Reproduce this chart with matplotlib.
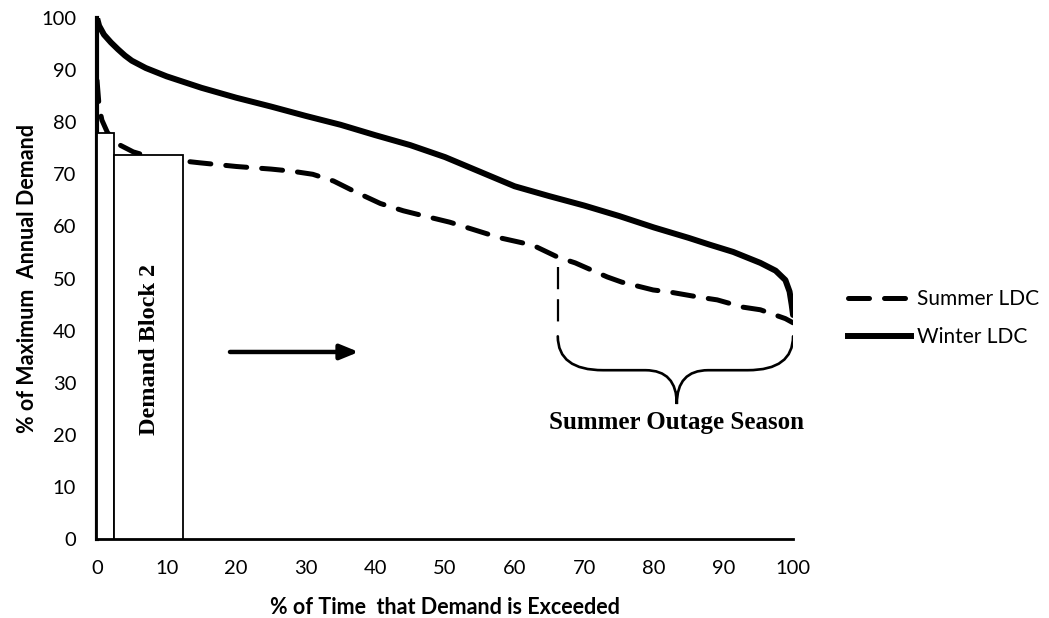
import matplotlib
matplotlib.use("Agg")
import matplotlib.pyplot as plt
from matplotlib.path import Path
from matplotlib.patches import PathPatch
from matplotlib.lines import Line2D

# ---- data ----
winter_x = [0, 0.3, 1, 2, 3, 4, 5, 7, 10, 15, 20, 25, 30, 35, 40, 45, 50, 55, 60,
            65, 70, 75, 80, 85, 88, 91.4, 95.3, 97.5, 98.9, 99.5, 99.8, 100]
winter_y = [100, 98.5, 96.8, 95.3, 94, 92.8, 91.8, 90.4, 88.8, 86.6, 84.7, 83, 81.2,
            79.5, 77.5, 75.6, 73.3, 70.5, 67.7, 65.8, 64, 62, 59.8, 57.8, 56.5, 55.1,
            53, 51.5, 49.7, 47.5, 45, 43]
summer_x = [0, 0.3, 0.7, 1.5, 3.3, 5.2, 8, 14.8, 20, 25, 28, 31, 34, 37, 40.7, 44,
            46.4, 50.7, 57.9, 62.6, 66.2, 68.7, 73.3, 75.4, 79.9, 82.3, 86.6, 89.1,
            92.8, 95.3, 98.9, 100]
summer_y = [88, 83, 80.4, 78, 75.6, 74.3, 73.2, 72.2, 71.5, 71, 70.6, 70, 68.7, 66.7,
            64.4, 63, 62.2, 60.8, 57.8, 56.4, 54.1, 53, 50.3, 49.3, 47.8, 47.4, 46.4,
            45.9, 44.5, 44, 42.3, 41.5]
block_left = [0, 2.4]
block_width = [2.4, 10.0]
block_height = [77.9, 73.7]
x_ticks = [0, 10, 20, 30, 40, 50, 60, 70, 80, 90, 100]
y_ticks = [0, 10, 20, 30, 40, 50, 60, 70, 80, 90, 100]
outage_start = 66.2

sans = ["Lato", "DejaVu Sans"]
serif = ["Liberation Serif", "DejaVu Serif"]

fig = plt.figure(figsize=(10.49, 6.18), dpi=100)
ax = fig.add_axes([0.0925, 0.1278, 0.6635, 0.8431])

ax.plot(winter_x, winter_y, color="black", lw=4.3, solid_capstyle="round",
        solid_joinstyle="round", zorder=3)
ls, = ax.plot(summer_x, summer_y, color="black", lw=3.6, dash_capstyle="round",
              zorder=2)
ls.set_dashes([4.2, 3.0])

ax.bar(block_left, block_height, width=block_width, align="edge", facecolor="white",
       edgecolor="black", linewidth=1.3, zorder=4)

ax.text(7.5, 36.3, "Demand Block 2", rotation=90, ha="center", va="center",
        fontsize=17.5, fontweight="bold", family=serif, zorder=5)

ax.annotate("", xy=(37.6, 35.9), xytext=(19.1, 35.9),
            arrowprops=dict(arrowstyle="-|>,head_length=1.1,head_width=0.45",
                            color="black", lw=3.2, shrinkA=0, shrinkB=0))

# vertical dashed marker
vl, = ax.plot([outage_start, outage_start], [52.2, 41.6], color="black", lw=1.6)
vl.set_dashes([10, 4.5])

# curly brace
xl, xr, xm = outage_start, 100.0, 83.3
yt, yh, ytip = 38.9, 32.4, 25.9
verts = [(xl, yt), (xl, yh), (xl + 6.5, yh),
         (xm - 4.5, yh),
         (xm, yh), (xm, ytip),
         (xm, yh), (xm + 4.5, yh),
         (xr - 6.5, yh),
         (xr, yh), (xr, yt)]
codes = [Path.MOVETO, Path.CURVE3, Path.CURVE3,
         Path.LINETO,
         Path.CURVE3, Path.CURVE3,
         Path.CURVE3, Path.CURVE3,
         Path.LINETO,
         Path.CURVE3, Path.CURVE3]
ax.add_patch(PathPatch(Path(verts, codes), facecolor="none", edgecolor="black",
                       lw=1.9, capstyle="round", zorder=5))
ax.text(xm, 22.3, "Summer Outage Season", ha="center", va="center", fontsize=18,
        fontweight="bold", family=serif)

ax.set_xlim(0, 100)
ax.set_ylim(0, 100)
ax.set_xticks(x_ticks)
ax.set_yticks(y_ticks)
ax.tick_params(length=0, labelsize=14.5)
ax.tick_params(axis="x", pad=15)
ax.tick_params(axis="y", pad=15)
for lab in ax.get_xticklabels() + ax.get_yticklabels():
    lab.set_family(sans)
ax.spines["top"].set_visible(False)
ax.spines["right"].set_visible(False)
ax.spines["left"].set_linewidth(3.0)
ax.spines["bottom"].set_linewidth(2.0)
ax.set_xlabel("% of Time  that Demand is Exceeded", fontsize=15.5, fontweight="bold",
              family=sans, va="center")
ax.set_ylabel("% of Maximum  Annual Demand", fontsize=15.5, fontweight="bold",
              family=sans, va="center")
ax.xaxis.set_label_coords(0.5, -(607 - 539) / 521)
ax.yaxis.set_label_coords((27 - 97) / 696, (539 - 278) / 521)

h1 = Line2D([], [], color="black", lw=3.6, dash_capstyle="round")
h1.set_dashes([4.2, 3.0])
h2 = Line2D([], [], color="black", lw=4.3)
fig.legend([h1, h2], ["Summer LDC", "Winter LDC"], loc="center left",
           bbox_to_anchor=(848 / 1049, 1 - 318 / 618), frameon=False,
           handlelength=3.0, handletextpad=0.3, labelspacing=0.85,
           borderpad=0, borderaxespad=0, prop=dict(family=sans, size=15))

fig.savefig("out.png", dpi=100)
